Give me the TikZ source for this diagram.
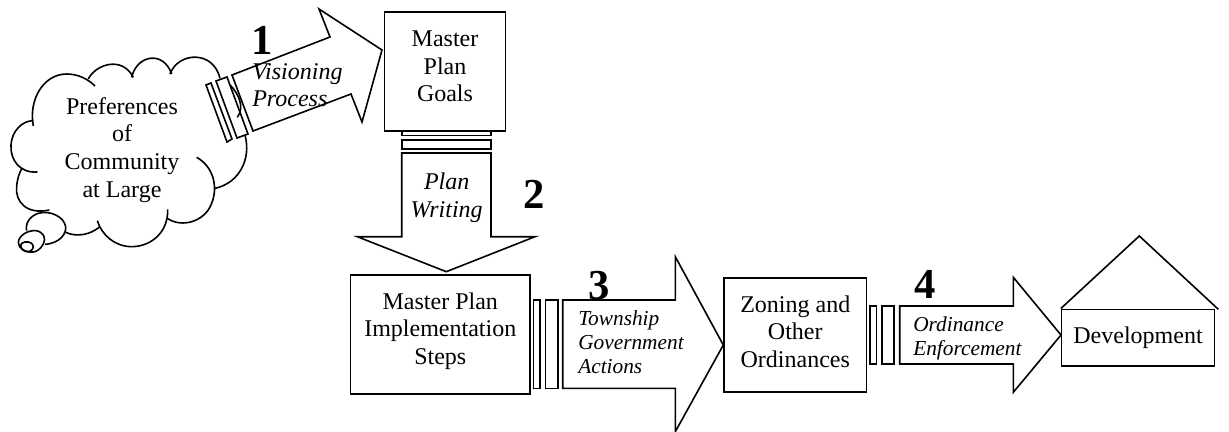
\documentclass[tikz,border=0pt]{standalone}
\usepackage{fontspec}
\setmainfont{Liberation Serif}
\tikzset{
  planbox/.style={draw,line width=1.2pt,align=center,inner sep=0pt,font=\fontsize{18}{20.7}\selectfont},
  blockarrow/.style={draw,line width=1.2pt,line join=miter},
  gapbar/.style={draw,line width=1.2pt},
  cloudline/.style={draw,line width=1.2pt},
  flowtext/.style={anchor=base,align=center,inner sep=0pt,font=\fontsize{18}{20.7}\selectfont},
  steptext/.style={anchor=base west,align=left,inner sep=0pt,font=\fontsize{16}{18}\itshape},
  stepnum/.style={anchor=base,inner sep=0pt,font=\fontsize{32}{32}\bfseries}
}
\begin{document}
\begin{tikzpicture}[x=0.75pt,y=-0.75pt]
  \useasboundingbox (0,0) rectangle (1229,432);
  % thought cloud, traced in 1/3 pixels
  \begin{scope}[x=0.25pt,y=-0.25pt]
    \draw[cloudline] (100,378) .. controls (85,300) and (130,222) .. (200,222) .. controls (235,222) and (265,238) .. (285,258);
    \draw[cloudline] (265,237) .. controls (285,195) and (365,165) .. (400,232);
    \draw[cloudline] (395,232) .. controls (410,165) and (490,150) .. (515,222);
    \draw[cloudline] (510,222) .. controls (535,155) and (640,150) .. (660,235);
    \draw[cloudline] (690,255) .. controls (715,280) and (735,320) .. (712,352);
    \draw[cloudline] (735,405) .. controls (755,480) and (715,550) .. (645,565);
    \draw[cloudline] (590,472) .. controls (640,500) and (655,560) .. (635,610) .. controls (615,665) and (545,685) .. (502,655);
    \draw[cloudline] (503,628) .. controls (505,700) and (450,740) .. (395,740) .. controls (345,740) and (305,705) .. (292,662);
    \draw[cloudline] (300,680) .. controls (270,705) and (230,712) .. (197,697);
    \draw[cloudline] (148,630) .. controls (80,645) and (45,605) .. (50,560) .. controls (52,535) and (58,518) .. (66,505);
    \draw[cloudline] (112,516) .. controls (60,520) and (30,480) .. (33,435) .. controls (35,395) and (65,362) .. (100,362);
    \draw[cloudline] (135,733) .. controls (180,730) and (200,700) .. (197,680) .. controls (192,650) and (150,630) .. (115,640) .. controls (90,648) and (75,670) .. (80,692);
    \draw[cloudline] (100,756) .. controls (75,758) and (55,745) .. (55,727) .. controls (57,705) and (85,690) .. (108,692) .. controls (130,695) and (140,715) .. (130,732) .. controls (122,747) and (110,755) .. (100,756);
    \draw[cloudline] (80,755) .. controls (65,752) and (58,738) .. (65,730) .. controls (75,722) and (98,725) .. (100,738) .. controls (100,750) and (90,756) .. (80,755);
  \end{scope}
  \node[flowtext] (cloudtext) at (122,197) {Preferences\\of\\Community\\at Large};
  % first arrow and its bars
  \draw[gapbar] (206,85) -- (211,83) -- (232,139) -- (227,142) -- cycle;
  \draw[gapbar] (216,81) -- (227,77) -- (248,134) -- (237,138) -- cycle;
  \draw[blockarrow] (232,75) -- (330,37) -- (319,9) -- (382,50) -- (362,122) -- (351,94) -- (253,131) -- cycle;
  \node[stepnum] (num1) at (262,55) {1};
  \node[steptext,font=\fontsize{18}{19.9}\itshape] (visioning) at (252,106) {Visioning\\Process};
  % goals and second arrow
  \node[planbox,minimum width=91pt,minimum height=89.3pt,text depth=8pt] (goals) at (445,71.5) {Master\\Plan\\Goals};
  \draw[gapbar] (401.7,131) rectangle (491,135.3);
  \draw[gapbar] (401.7,140) rectangle (491,148.7);
  \draw[blockarrow] (401.7,153) -- (491,153) -- (491,236.7) -- (535,236.7) -- (446.3,271.7) -- (357.3,236.7) -- (401.7,236.7) -- cycle;
  \node[flowtext,font=\fontsize{18}{20.7}\itshape] (planwriting) at (446.7,217) {Plan\\Writing};
  \node[stepnum] (num2) at (534,208) {2};
  % implementation and third arrow
  \node[planbox,minimum width=134.5pt,minimum height=89pt,text depth=9pt] (implementation) at (440.3,334.6) {Master Plan\\Implementation\\Steps};
  \draw[gapbar] (533.3,300) rectangle (540,388.3);
  \draw[gapbar] (545.3,300) rectangle (557.7,388.3);
  \draw[blockarrow] (562.7,300) -- (675.3,300) -- (675.3,256.7) -- (723.3,345) -- (675.3,431.7) -- (675.3,388.3) -- (562.7,388.3) -- cycle;
  \node[stepnum] (num3) at (599,299.3) {3};
  \node[steptext] (township) at (578,373) {Township\\Government\\Actions};
  % zoning and fourth arrow
  \node[planbox,minimum width=107pt,minimum height=85.5pt,text depth=5pt] (zoning) at (795.3,334.7) {Zoning and\\Other\\Ordinances};
  \draw[gapbar] (869.7,306) rectangle (876.3,364);
  \draw[gapbar] (881.7,306) rectangle (894,364);
  \draw[blockarrow] (899.7,306) -- (1013.3,306) -- (1013.3,277.3) -- (1061,335) -- (1013.3,392.3) -- (1013.3,364) -- (899.7,364) -- cycle;
  \node[stepnum] (num4) at (925,298.7) {4};
  \node[steptext] (ordinance) at (913,355) {Ordinance\\Enforcement};
  % development house
  \node[planbox,minimum width=114.5pt,minimum height=42.3pt] (development) at (1138,337.5) {Development};
  \coordinate (roofapex) at (1139.3,236);
  \coordinate (roofend) at (1218.3,309.3);
  \draw[blockarrow] (development.north west) -- (roofapex) -- (roofend);
\end{tikzpicture}
\end{document}
